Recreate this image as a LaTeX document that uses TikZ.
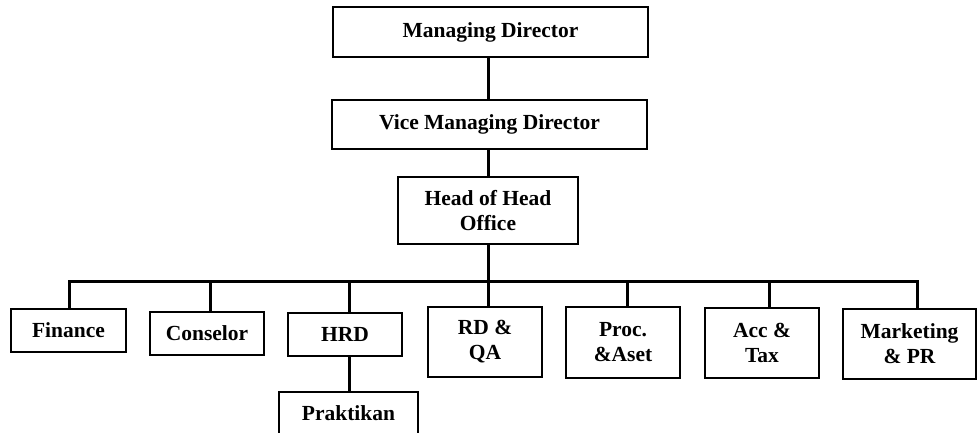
\documentclass[tikz,border=0pt]{standalone}
\usepackage{fontspec}
\setmainfont{Liberation Serif}
\begin{document}
\begin{tikzpicture}[x=1pt,y=-1pt,
  box/.style={draw=black,line width=1.6pt,rectangle,inner sep=0pt,align=center,
    font=\fontsize{21.5}{25}\selectfont\bfseries,text=black},
  conn/.style={line width=3pt,black}]
\useasboundingbox (0,0) rectangle (978,432);
\node[box,minimum width=315pt,minimum height=50pt] (md) at (490.5,32) {Managing Director};
\node[box,minimum width=315pt,minimum height=49pt] (vmd) at (489.5,124.5) {Vice Managing Director};
\node[box,minimum width=180pt,minimum height=67pt] (hho) at (488,210.5) {Head of Head\\Office};
\node[box,minimum width=115pt,minimum height=43pt] (fin) at (68.5,330.5) {Finance};
\node[box,minimum width=114pt,minimum height=43pt] (con) at (207,333.5) {Conselor};
\node[box,minimum width=114pt,minimum height=43pt] (hrd) at (345,334.5) {HRD};
\node[box,minimum width=139pt,minimum height=43pt] (prak) at (348.5,413.5) {Praktikan};
\node[box,minimum width=114pt,minimum height=70pt] (rdqa) at (485,342) {RD \&\\QA};
\node[box,minimum width=114pt,minimum height=71pt] (proc) at (623,342.5) {Proc.\\\&Aset};
\node[box,minimum width=114pt,minimum height=70pt] (acc) at (762,343) {Acc \&\\Tax};
\node[box,minimum width=133pt,minimum height=70pt] (mkt) at (909.5,344) {Marketing\\\& PR};
\coordinate (b1) at (69,281);
\coordinate (b2) at (210,281);
\coordinate (b3) at (349,281);
\coordinate (b4) at (488,281);
\coordinate (b5) at (627,281);
\coordinate (b6) at (769,281);
\coordinate (b7) at (917,281);
\draw[conn] (b4 |- md.south) -- (b4 |- vmd.north);
\draw[conn] (b4 |- vmd.south) -- (b4 |- hho.north);
\draw[conn] (hho.south) -- (b4);
\draw[conn] (b1 |- fin.north) -- (b1) -- (b7) -- (b7 |- mkt.north);
\draw[conn] (b2) -- (b2 |- con.north);
\draw[conn] (b3) -- (b3 |- hrd.north);
\draw[conn] (b4) -- (b4 |- rdqa.north);
\draw[conn] (b5) -- (b5 |- proc.north);
\draw[conn] (b6) -- (b6 |- acc.north);
\draw[conn] (b3 |- hrd.south) -- (b3 |- prak.north);
\end{tikzpicture}
\end{document}
